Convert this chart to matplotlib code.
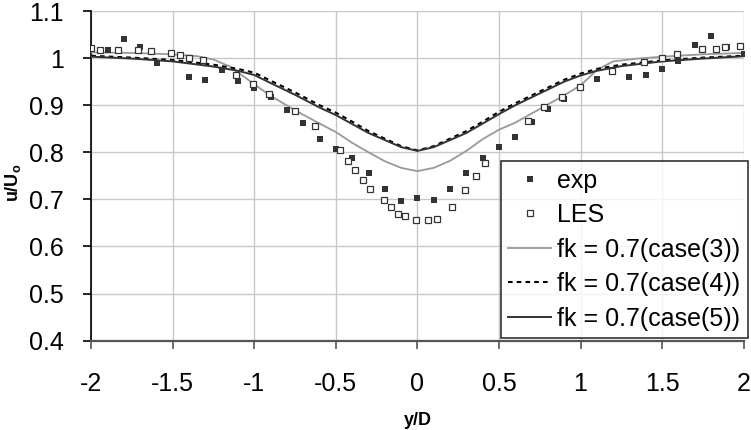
import matplotlib.pyplot as plt
from matplotlib.ticker import FormatStrFormatter

plt.rcParams['font.family'] = ['Liberation Sans', 'DejaVu Sans']
plt.rcParams['axes.unicode_minus'] = False
plt.rcParams['mathtext.fontset'] = 'custom'
plt.rcParams['mathtext.rm'] = 'Liberation Sans'
plt.rcParams['mathtext.bf'] = 'Liberation Sans:bold'

# experiment (filled squares)
exp_x = [-1.9, -1.8, -1.7, -1.6, -1.4, -1.3, -1.2, -1.1, -1.0, -0.9, -0.8, -0.7,
         -0.6, -0.5, -0.4, -0.3, -0.2, -0.1, 0.0, 0.1, 0.2, 0.3, 0.4, 0.5, 0.6,
         0.7, 0.8, 0.9, 1.0, 1.1, 1.2, 1.3, 1.4, 1.5, 1.6, 1.7, 1.8, 1.9, 2.0]
exp_y = [1.018, 1.040, 1.024, 0.990, 0.959, 0.954, 0.974, 0.951, 0.937, 0.918,
         0.889, 0.862, 0.828, 0.807, 0.787, 0.755, 0.723, 0.697, 0.702, 0.699,
         0.723, 0.756, 0.787, 0.812, 0.833, 0.864, 0.892, 0.913, 0.936, 0.956,
         0.974, 0.959, 0.964, 0.977, 0.994, 1.028, 1.047, 1.024, 1.008]

# LES (open squares)
les_x = [-2.0, -1.947, -1.835, -1.713, -1.632, -1.51, -1.455, -1.40, -1.313,
         -1.11, -1.01, -0.91, -0.753, -0.626, -0.473, -0.426, -0.386, -0.333,
         -0.29, -0.207, -0.162, -0.121, -0.075, -0.01, 0.063, 0.118, 0.212,
         0.289, 0.362, 0.416, 0.675, 0.778, 0.886, 0.997, 1.193, 1.392, 1.498,
         1.594, 1.746, 1.828, 1.886, 1.976]
les_y = [1.021, 1.018, 1.018, 1.018, 1.015, 1.011, 1.006, 1.000, 0.995,
         0.964, 0.944, 0.923, 0.888, 0.856, 0.804, 0.781, 0.762, 0.742,
         0.723, 0.699, 0.684, 0.670, 0.664, 0.657, 0.657, 0.659, 0.684,
         0.719, 0.749, 0.777, 0.866, 0.897, 0.917, 0.938, 0.972, 0.991, 1.000,
         1.008, 1.020, 1.020, 1.024, 1.025]

# fk = 0.7 case(3)
c3_x = [-2.0, -1.75, -1.5, -1.35, -1.25, -1.15, -1.05, -1.0, -0.9, -0.75, -0.6,
        -0.5, -0.4, -0.3, -0.2, -0.1, 0.0, 0.1, 0.2, 0.3, 0.4, 0.5, 0.6, 0.75,
        0.9, 1.0, 1.05, 1.1, 1.2, 1.35, 1.5, 1.75, 2.0]
c3_y = [1.012, 1.011, 1.008, 1.004, 0.997, 0.982, 0.957, 0.944, 0.920, 0.889,
        0.861, 0.843, 0.820, 0.800, 0.781, 0.767, 0.760, 0.767, 0.782, 0.803,
        0.828, 0.848, 0.863, 0.892, 0.921, 0.942, 0.958, 0.975, 0.993, 0.999,
        1.003, 1.008, 1.011]

# fk = 0.7 case(4)
c4_x = [-2.0, -1.75, -1.5, -1.25, -1.1, -1.0, -0.9, -0.75, -0.6, -0.5, -0.4,
        -0.3, -0.2, -0.1, 0.0, 0.1, 0.2, 0.3, 0.4, 0.5, 0.6, 0.75, 0.9, 1.0,
        1.1, 1.25, 1.5, 1.75, 2.0]
c4_y = [1.005, 1.001, 0.996, 0.986, 0.977, 0.969, 0.952, 0.927, 0.900, 0.884,
        0.865, 0.845, 0.829, 0.813, 0.804, 0.813, 0.829, 0.845, 0.865, 0.886,
        0.904, 0.929, 0.954, 0.967, 0.977, 0.986, 0.995, 1.001, 1.005]

# fk = 0.7 case(5)
c5_x = c4_x
c5_y = [1.003, 0.999, 0.993, 0.982, 0.973, 0.964, 0.947, 0.922, 0.895, 0.879,
        0.860, 0.841, 0.826, 0.811, 0.803, 0.811, 0.826, 0.841, 0.861, 0.881,
        0.900, 0.925, 0.950, 0.963, 0.973, 0.983, 0.993, 0.999, 1.004]

fig = plt.figure(figsize=(7.51, 4.30), dpi=100)
ax = fig.add_axes([0.1216, 0.2077, 0.8685, 0.7667])

ax.plot(exp_x, exp_y, 's', color='#333333', ms=5, mew=0, label='exp', zorder=4)
ax.plot(les_x, les_y, 's', mfc='white', mec='#333333', ms=5, mew=0.9,
        label='LES', zorder=4)
ax.plot(c3_x, c3_y, color='#999999', lw=1.3, label='fk = 0.7(case(3))', zorder=3)
ax.plot(c4_x, c4_y, color='black', lw=1.5, dashes=(2.2, 2),
        label='fk = 0.7(case(4))', zorder=3)
ax.plot(c5_x, c5_y, color='#333333', lw=1.4, label='fk = 0.7(case(5))', zorder=3)

ax.set_xlim(-2, 2)
ax.set_ylim(0.4, 1.1)
ax.set_xticks([-2, -1.5, -1, -0.5, 0, 0.5, 1, 1.5, 2])
ax.set_yticks([0.4, 0.5, 0.6, 0.7, 0.8, 0.9, 1.0, 1.1])
ax.xaxis.set_major_formatter(FormatStrFormatter('%g'))
ax.yaxis.set_major_formatter(FormatStrFormatter('%g'))
ax.grid(True, color='#c8c8c8', lw=1)
ax.set_axisbelow(True)

ax.spines['top'].set_visible(False)
ax.spines['right'].set_visible(False)
ax.spines['left'].set_color('black')
ax.spines['left'].set_linewidth(1.2)
ax.spines['bottom'].set_color('#555555')
ax.spines['bottom'].set_linewidth(1.6)
ax.tick_params(axis='x', length=5.5, width=1.2, color='#555555', pad=17,
               labelsize=18)
ax.tick_params(axis='y', length=5.5, width=1.2, color='black', pad=14,
               labelsize=18)

ax.set_xlabel('y/D', fontsize=13, fontweight='bold')
ax.xaxis.set_label_coords(0.5, -0.215)
ax.set_ylabel(r'$\mathbf{u/U_o}$', fontsize=13)
ax.yaxis.set_label_coords(-0.105, 0.48)

leg = ax.legend(loc='upper left', bbox_to_anchor=(0.628, 0.545), borderaxespad=0,
                fontsize=18, frameon=True, fancybox=False, handlelength=1.7,
                handletextpad=0.25, labelspacing=0.42, borderpad=0.3,
                markerscale=1.0)
leg.get_frame().set_edgecolor('black')
leg.get_frame().set_linewidth(1.2)

fig.savefig('out.png', dpi=100)
